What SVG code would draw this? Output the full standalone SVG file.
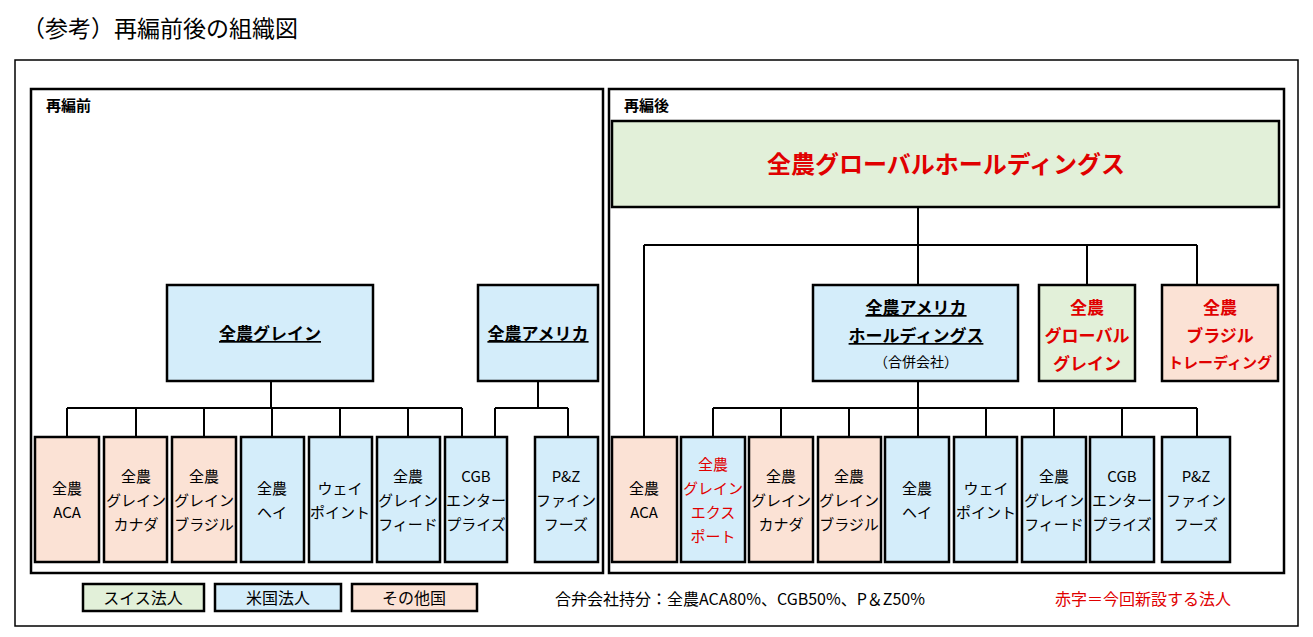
<svg xmlns="http://www.w3.org/2000/svg" width="1313" height="637" viewBox="0 0 1313 637">
<style>
text{font-family:"Noto Sans CJK JP","Liberation Sans",sans-serif;fill:#000;text-anchor:middle}
.b{stroke:#000;stroke-width:2.5}
.g{fill:#e2f0d9}.u{fill:#d4edfa}.o{fill:#fbe2d5}
.s{font-size:15px}
.h{font-size:17px;font-weight:bold}
.r{fill:#e00000}
.frame{fill:none;stroke:#000}
.ln{stroke:#000;stroke-width:2;fill:none}
</style>
<rect width="1313" height="637" fill="#fff"/>
<text x="22" y="37" style="font-size:23px;text-anchor:start">（参考）再編前後の組織図</text>
<rect class="frame" x="15" y="60" width="1283" height="566" stroke-width="1.5"/>
<rect class="frame" x="31" y="89" width="572" height="484" stroke-width="2.5"/>
<rect class="frame" x="609" y="89" width="675" height="484" stroke-width="2.5"/>
<text x="46" y="111" style="font-size:15px;font-weight:bold;text-anchor:start">再編前</text>
<text x="624" y="111" style="font-size:15px;font-weight:bold;text-anchor:start">再編後</text>
<g id="connectors" class="ln">
<path d="M271 381V408M67 408H462M67 408V437M136 408V437M204 408V437M272 408V437M340 408V437M408 408V437M462 408V437"/>
<path d="M538 381V408M495 408H568M495 408V437M568 408V437"/>
<path d="M918 207V285M644 245H1197M644 245V437M1087 245V285M1197 245V285"/>
<path d="M918 381V437M713 408H1197M713 408V437M781 408V437M849 408V437M986 408V437M1054 408V437M1122 408V437M1197 408V437"/>
</g>
<g id="n-grain"><rect class="b u" x="167" y="285" width="206" height="96"/><text class="h" x="270" y="340" text-decoration="underline">全農グレイン</text></g>
<g id="n-america"><rect class="b u" x="478" y="285" width="120" height="96"/><text class="h" x="538" y="340" text-decoration="underline">全農アメリカ</text></g>
<g id="l-aca"><rect class="b o" x="35" y="437" width="64" height="125"/><text class="s" x="67" y="494">全農</text><text class="s" x="67" y="518">ACA</text></g>
<g id="l-canada"><rect class="b o" x="104" y="437" width="63" height="125"/><text class="s" x="136" y="482">全農</text><text class="s" x="136" y="506">グレイン</text><text class="s" x="136" y="530">カナダ</text></g>
<g id="l-brazil"><rect class="b o" x="172" y="437" width="64" height="125"/><text class="s" x="204" y="482">全農</text><text class="s" x="204" y="506">グレイン</text><text class="s" x="204" y="530">ブラジル</text></g>
<g id="l-hay"><rect class="b u" x="241" y="437" width="63" height="125"/><text class="s" x="272" y="494">全農</text><text class="s" x="272" y="518">ヘイ</text></g>
<g id="l-way"><rect class="b u" x="309" y="437" width="63" height="125"/><text class="s" x="340" y="494">ウェイ</text><text class="s" x="340" y="518">ポイント</text></g>
<g id="l-feed"><rect class="b u" x="377" y="437" width="63" height="125"/><text class="s" x="408" y="482">全農</text><text class="s" x="408" y="506">グレイン</text><text class="s" x="408" y="530">フィード</text></g>
<g id="l-cgb"><rect class="b u" x="445" y="437" width="62" height="125"/><text class="s" x="476" y="482">CGB</text><text class="s" x="476" y="506">エンター</text><text class="s" x="476" y="530">プライズ</text></g>
<g id="l-pz"><rect class="b u" x="535" y="437" width="63" height="125"/><text class="s" x="566" y="482">P&amp;Z</text><text class="s" x="566" y="506">ファイン</text><text class="s" x="566" y="530">フーズ</text></g>
<g id="n-ghd"><rect class="b g" x="612" y="121" width="667" height="86"/><text x="946" y="173" class="r" style="font-size:24px;font-weight:bold">全農グローバルホールディングス</text></g>
<g id="n-amhd"><rect class="b u" x="813" y="285" width="205" height="96"/><text class="h" x="916" y="314" text-decoration="underline">全農アメリカ</text><text class="h" x="916" y="342" text-decoration="underline">ホールディングス</text><text x="916" y="367" style="font-size:14px">（合併会社）</text></g>
<g id="n-gg"><rect class="b g" x="1039" y="285" width="96" height="96"/><text class="h r" x="1087" y="314">全農</text><text class="h r" x="1087" y="342">グローバル</text><text class="h r" x="1087" y="370">グレイン</text></g>
<g id="n-bt"><rect class="b o" x="1162" y="285" width="116" height="96"/><text class="h r" x="1220" y="314">全農</text><text class="h r" x="1220" y="342">ブラジル</text><text class="r" x="1220" y="368" style="font-size:15px;font-weight:bold">トレーディング</text></g>
<g id="r-aca"><rect class="b o" x="612" y="437" width="65" height="125"/><text class="s" x="644" y="494">全農</text><text class="s" x="644" y="518">ACA</text></g>
<g id="r-exp"><rect class="b u" x="681" y="437" width="64" height="125"/><text class="s r" x="713" y="470">全農</text><text class="s r" x="713" y="494">グレイン</text><text class="s r" x="713" y="518">エクス</text><text class="s r" x="713" y="542">ポート</text></g>
<g id="r-canada"><rect class="b o" x="749" y="437" width="64" height="125"/><text class="s" x="781" y="482">全農</text><text class="s" x="781" y="506">グレイン</text><text class="s" x="781" y="530">カナダ</text></g>
<g id="r-brazil"><rect class="b o" x="818" y="437" width="63" height="125"/><text class="s" x="849" y="482">全農</text><text class="s" x="849" y="506">グレイン</text><text class="s" x="849" y="530">ブラジル</text></g>
<g id="r-hay"><rect class="b u" x="885" y="437" width="64" height="125"/><text class="s" x="917" y="494">全農</text><text class="s" x="917" y="518">ヘイ</text></g>
<g id="r-way"><rect class="b u" x="954" y="437" width="63" height="125"/><text class="s" x="986" y="494">ウェイ</text><text class="s" x="986" y="518">ポイント</text></g>
<g id="r-feed"><rect class="b u" x="1022" y="437" width="64" height="125"/><text class="s" x="1054" y="482">全農</text><text class="s" x="1054" y="506">グレイン</text><text class="s" x="1054" y="530">フィード</text></g>
<g id="r-cgb"><rect class="b u" x="1090" y="437" width="64" height="125"/><text class="s" x="1122" y="482">CGB</text><text class="s" x="1122" y="506">エンター</text><text class="s" x="1122" y="530">プライズ</text></g>
<g id="r-pz"><rect class="b u" x="1162" y="437" width="68" height="125"/><text class="s" x="1196" y="482">P&amp;Z</text><text class="s" x="1196" y="506">ファイン</text><text class="s" x="1196" y="530">フーズ</text></g>
<g id="legend">
<rect class="b g" x="83" y="584" width="121" height="27"/><text x="143" y="604" style="font-size:16px">スイス法人</text>
<rect class="b u" x="215" y="584" width="126" height="27"/><text x="278" y="604" style="font-size:16px">米国法人</text>
<rect class="b o" x="352" y="584" width="125" height="27"/><text x="414" y="604" style="font-size:16px">その他国</text>
</g>
<text x="555" y="605" style="font-size:16px;text-anchor:start">合弁会社持分：全農ACA80%、CGB50%、P＆Z50%</text>
<text x="1055" y="605" class="r" style="font-size:16px;text-anchor:start">赤字＝今回新設する法人</text>
</svg>
